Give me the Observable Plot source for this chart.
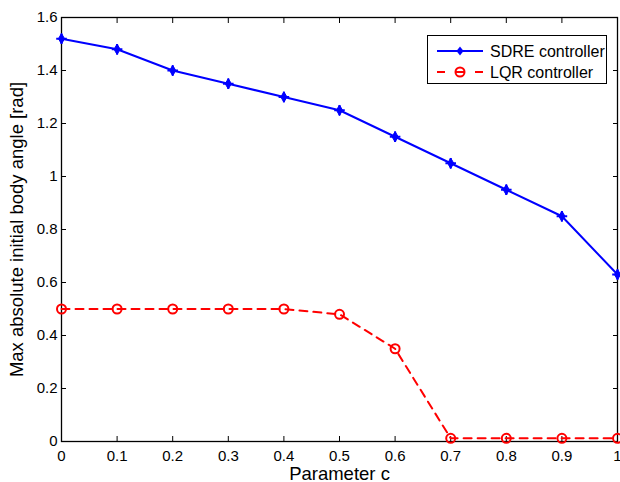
<!DOCTYPE html>
<html>
<head>
<meta charset="utf-8">
<script src="https://cdn.jsdelivr.net/npm/d3@7"></script>
<script src="https://cdn.jsdelivr.net/npm/@observablehq/plot@0.6"></script>
<style>
  html, body { margin: 0; padding: 0; background: #fff; }
  #wrap { position: relative; width: 620px; height: 482px; font-family: "Liberation Sans", Arial, sans-serif; }
  #legend { position: absolute; left: 427px; top: 35px; width: 180px; height: 49px; border: 1px solid #000; background: #fff; box-sizing: border-box; }
</style>
</head>
<body>
<div id="wrap"></div>
<script>
const cValues = [0, 0.1, 0.2, 0.3, 0.4, 0.5, 0.6, 0.7, 0.8, 0.9, 1.0];
const sdre = [1.52, 1.48, 1.40, 1.35, 1.30, 1.25, 1.15, 1.05, 0.95, 0.85, 0.63];
const lqr  = [0.50, 0.50, 0.50, 0.50, 0.50, 0.48, 0.35, 0.012, 0.012, 0.012, 0.012];
const xTicks = [0, 0.1, 0.2, 0.3, 0.4, 0.5, 0.6, 0.7, 0.8, 0.9, 1];
const yTicks = [0, 0.2, 0.4, 0.6, 0.8, 1, 1.2, 1.4, 1.6];
const seriesNames = ["SDRE controller", "LQR controller"];

const sdreData = cValues.map((c, i) => ({c, v: sdre[i]}));
const lqrData = cValues.map((c, i) => ({c, v: lqr[i]}));
const fmt = d => d === 0 ? "0" : d === 1 ? "1" : String(d);

const chart = Plot.plot({
  width: 620,
  height: 482,
  marginLeft: 61,
  marginRight: 3,
  marginTop: 17,
  marginBottom: 41,
  style: {fontFamily: "Liberation Sans, Arial, sans-serif", fontSize: "15px", background: "#fff", overflow: "visible"},
  x: {domain: [0, 1]},
  y: {domain: [0, 1.6]},
  marks: [
    Plot.frame({stroke: "#000", strokeWidth: 1.3}),
    Plot.axisX(xTicks, {anchor: "bottom", tickSize: -5, tickPadding: 14, tickFormat: fmt, fontSize: 15, fill: "#000", stroke: "#000", label: "Parameter c", labelAnchor: "center", labelOffset: 38, labelArrow: "none"}),
    Plot.axisX(xTicks, {anchor: "top", tickSize: -5, tickFormat: null, text: null, label: null, stroke: "#000"}),
    Plot.axisY(yTicks, {anchor: "left", tickSize: -5, tickPadding: 9, tickFormat: fmt, fontSize: 15, fill: "#000", stroke: "#000", label: "Max absolute initial body angle [rad]", labelAnchor: "center", labelOffset: 52, labelArrow: "none"}),
    Plot.axisY(yTicks, {anchor: "right", tickSize: -5, tickFormat: null, text: null, label: null, stroke: "#000"}),
    Plot.line(lqrData, {x: "c", y: "v", stroke: "#ff0000", strokeWidth: 2, strokeDasharray: "8,6"}),
    Plot.dot(lqrData, {x: "c", y: "v", r: 4.5, stroke: "#ff0000", strokeWidth: 2, fill: "none"}),
    Plot.line(sdreData, {x: "c", y: "v", stroke: "#0000ff", strokeWidth: 2}),
    Plot.dot(sdreData, {x: "c", y: "v", symbol: "diamond", r: 3.2, fill: "#0000ff", stroke: "#0000ff", strokeWidth: 1}),
    Plot.dot(sdreData, {x: "c", y: "v", symbol: "plus", r: 3.5, stroke: "#0000ff", strokeWidth: 2})
  ]
});

const wrap = document.getElementById("wrap");
wrap.appendChild(chart);
d3.select(chart).selectAll("g[aria-label='x-axis label'] text, g[aria-label='y-axis label'] text").attr("font-size", 18.5);

const legend = document.createElement("div");
legend.id = "legend";
legend.innerHTML = `<svg width="180" height="49" style="font-family: Liberation Sans, Arial, sans-serif; font-size: 16px;">
  <line x1="9" x2="55" y1="15" y2="15" stroke="#0000ff" stroke-width="2"/>
  <path d="M32,10.5 L35.5,15 L32,19.5 L28.5,15 Z" fill="#0000ff"/>
  <text x="62" y="20.5" fill="#000">${seriesNames[0]}</text>
  <line x1="9" x2="55" y1="36" y2="36" stroke="#ff0000" stroke-width="2" stroke-dasharray="8,11"/>
  <circle cx="32" cy="36" r="4.5" fill="none" stroke="#ff0000" stroke-width="2"/>
  <text x="62" y="41.5" fill="#000">${seriesNames[1]}</text>
</svg>`;
wrap.appendChild(legend);
</script>
</body>
</html>
